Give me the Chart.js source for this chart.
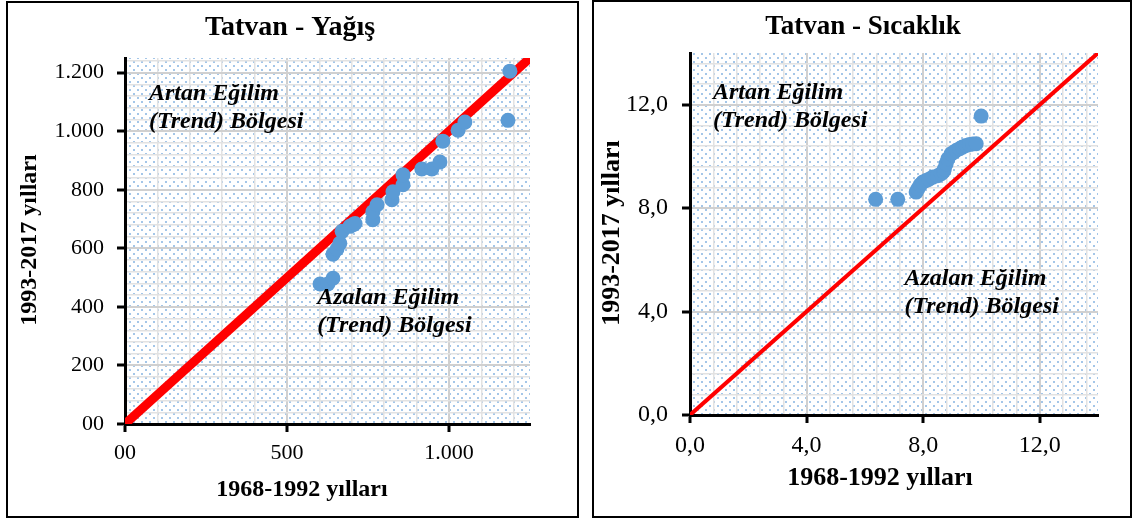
<!DOCTYPE html>
<html lang="tr">
<head>
<meta charset="utf-8">
<title>Tatvan - Yağış / Sıcaklık</title>
<script src="https://cdn.jsdelivr.net/npm/chart.js@4.4.1/dist/chart.umd.min.js"></script>
<style>
    body { margin: 0; background: #fff; width: 1134px; height: 519px; position: relative; overflow: hidden; }
    .frame { position: absolute; border: 2px solid #000; box-sizing: border-box; }
    canvas { position: absolute; top: 0; }
</style>
</head>
<body>
<div class="frame" style="left:6px; top:1px; width:573px; height:517px;"></div>
<div class="frame" style="left:592px; top:0; width:540px; height:518px;"></div>
<canvas id="rainChart" width="580" height="519" style="left:0;"></canvas>
<canvas id="tempChart" width="542" height="519" style="left:592px;"></canvas>

<script>
// Tatvan - Yağış (mm): sorted values, 1968-1992 vs 1993-2017
const rainOld = [602, 626, 642, 642, 654, 663, 670, 694, 704, 710, 765, 765, 778, 824, 827, 858, 858, 916, 947, 972, 981, 1028, 1049, 1182, 1188];
const rainNew = [478, 478, 498, 580, 597, 617, 658, 675, 681, 685, 698, 725, 749, 766, 793, 817, 851, 871, 871, 895, 966, 1003, 1031, 1037, 1205];
const rainRange = [0, 1250];
const rainXTicks = [0, 500, 1000];
const rainXLabels = ['00', '500', '1.000'];
const rainYTicks = [0, 200, 400, 600, 800, 1000, 1200];
const rainYLabels = ['00', '200', '400', '600', '800', '1.000', '1.200'];

// Tatvan - Sıcaklık (°C): sorted values, 1968-1992 vs 1993-2017
const tempOld = [6.37, 7.13, 7.76, 7.82, 7.90, 7.99, 8.10, 8.20, 8.33, 8.50, 8.62, 8.70, 8.73, 8.79, 8.85, 8.96, 9.05, 9.13, 9.25, 9.35, 9.47, 9.59, 9.70, 9.82, 9.99];
const tempNew = [8.34, 8.34, 8.62, 8.75, 8.90, 9.01, 9.07, 9.12, 9.20, 9.25, 9.33, 9.42, 9.52, 9.72, 9.91, 10.10, 10.16, 10.23, 10.30, 10.36, 10.42, 10.46, 10.48, 10.49, 11.56];
const tempRange = [0, 14];
const tempTicks = [0, 4, 8, 12];
const tempLabels = ['0,0', '4,0', '8,0', '12,0'];

const SERIF = '"Liberation Serif", "Times New Roman", serif';

// dotted fill like the Excel plot area
const dots = document.createElement('canvas');
dots.width = 8;
dots.height = 8;
const dctx = dots.getContext('2d');
dctx.fillStyle = '#a4c6e8';
dctx.fillRect(1, 1, 2, 2);
dctx.fillRect(5, 5, 2, 2);

const areaPattern = {
    id: 'areaPattern',
    beforeDraw: function (chart) {
        const ctx = chart.ctx;
        const a = chart.chartArea;
        ctx.save();
        ctx.fillStyle = ctx.createPattern(dots, 'repeat');
        ctx.fillRect(a.left, a.top, a.right - a.left, a.bottom - a.top);
        ctx.restore();
    }
};

// panel title, axis titles and the two zone notes
const panelText = {
    id: 'panelText',
    afterDatasetsDraw: function (chart, args, opts) {
        const ctx = chart.ctx;
        const x = chart.scales.x, y = chart.scales.y;
        ctx.save();
        ctx.fillStyle = '#000';
        ctx.textBaseline = 'middle';
        ctx.textAlign = 'center';
        ctx.font = 'bold ' + opts.titleSize + 'px ' + SERIF;
        ctx.fillText(opts.title, chart.width / 2, opts.titleY);

        ctx.font = 'bold ' + opts.axisSize + 'px ' + SERIF;
        ctx.fillText('1968-1992 yılları', opts.xTitle[0], opts.xTitle[1]);
        ctx.save();
        ctx.translate(opts.yTitle[0], opts.yTitle[1]);
        ctx.rotate(-Math.PI / 2);
        ctx.fillText('1993-2017 yılları', 0, 0);
        ctx.restore();

        ctx.textAlign = 'left';
        ctx.textBaseline = 'alphabetic';
        ctx.font = 'italic bold 24px ' + SERIF;
        opts.notes.forEach(function (n) {
            const px = x.getPixelForValue(n.x);
            const py = y.getPixelForValue(n.y);
            n.lines.forEach(function (t, i) { ctx.fillText(t, px, py + i * 28); });
        });
        ctx.restore();
    }
};

function isMajor(v, majors) {
    return majors.some(m => Math.abs(m - v) < 1e-6);
}

function minorTicks(range, step) {
    const out = [];
    for (let i = 0; i * step < range[1] - 1e-9; i++) {
        out.push({ value: +(i * step).toFixed(4) });
    }
    return out;
}

function axis(c, dir) {
    const horiz = dir === 'x';
    const majors = horiz ? c.xTicks : c.yTicks;
    const labels = horiz ? c.xLabels : c.yLabels;
    const step = horiz ? c.xStep : c.yStep;
    return {
        type: 'linear',
        position: horiz ? 'bottom' : 'left',
        min: c.range[0],
        max: c.range[1],
        afterBuildTicks: s => { s.ticks = minorTicks(c.range, step); },
        afterFit: s => {
            if (horiz) s.height = c.xHeight;
            else s.width = c.yWidth;
        },
        grid: {
            color: ctx => ctx.tick && isMajor(ctx.tick.value, majors) ? '#d0d0d0' : '#e2e2e2',
            lineWidth: ctx => ctx.tick && isMajor(ctx.tick.value, majors) ? 2 : 1.5,
            tickColor: ctx => ctx.tick && isMajor(ctx.tick.value, majors) ? '#000' : 'rgba(0,0,0,0)',
            tickLength: 8,
            tickWidth: 3
        },
        border: { color: '#000', width: 3 },
        ticks: {
            autoSkip: false,
            maxRotation: 0,
            color: '#000',
            font: { family: SERIF, size: c.tickSize },
            padding: horiz ? 8 : c.yPad,
            callback: function (value) {
                const i = majors.findIndex(m => Math.abs(m - value) < 1e-6);
                return i >= 0 ? labels[i] : '';
            }
        },
        title: { display: false }
    };
}

function drawPanel(id, c) {
    const points = c.xs.map((x, i) => ({ x: x, y: c.ys[i] }));
    new Chart(document.getElementById(id), {
        data: {
            datasets: [{
                type: 'scatter',
                data: points,
                backgroundColor: '#5b9bd5',
                borderWidth: 0,
                pointRadius: 7.5,
                pointHoverRadius: 7.5
            }, {
                type: 'line',
                data: [{ x: c.range[0], y: c.range[0] }, { x: c.range[1], y: c.range[1] }],
                borderColor: '#ff0000',
                borderWidth: c.lineWidth,
                pointRadius: 0,
                fill: false,
                clip: 0
            }]
        },
        options: {
            responsive: false,
            animation: false,
            devicePixelRatio: 1,
            layout: { padding: { left: 0, right: c.padRight, top: c.padTop, bottom: 0 } },
            plugins: {
                legend: { display: false },
                tooltip: { enabled: false },
                panelText: {
                    title: c.title, titleY: c.titleY, titleSize: c.titleSize,
                    axisSize: c.axisSize, xTitle: c.xTitle, yTitle: c.yTitle,
                    notes: c.notes
                }
            },
            scales: {
                x: axis(c, 'x'),
                y: axis(c, 'y')
            }
        },
        plugins: [areaPattern, panelText]
    });
}

drawPanel('rainChart', {
    title: 'Tatvan - Yağış',
    xs: rainOld, ys: rainNew, range: rainRange,
    xTicks: rainXTicks, xLabels: rainXLabels, xStep: 100,
    yTicks: rainYTicks, yLabels: rainYLabels, yStep: 40,
    padRight: 50, padTop: 58, titleY: 28, titleSize: 28,
    tickSize: 22, axisSize: 24, xTitle: [302, 490], yTitle: [30, 240],
    yWidth: 125, xHeight: 95, yPad: 13,
    lineWidth: 9,
    notes: [
        { x: 74, y: 1105, lines: ['Artan Eğilim', '(Trend) Bölgesi'] },
        { x: 593, y: 410, lines: ['Azalan Eğilim', '(Trend) Bölgesi'] }
    ]
});

drawPanel('tempChart', {
    title: 'Tatvan - Sıcaklık',
    xs: tempOld, ys: tempNew, range: tempRange,
    xTicks: tempTicks, xLabels: tempLabels, xStep: 0.8,
    yTicks: tempTicks, yLabels: tempLabels, yStep: 0.8,
    padRight: 36, padTop: 53, titleY: 27, titleSize: 27,
    tickSize: 24, axisSize: 26, xTitle: [288, 478], yTitle: [20, 233],
    yWidth: 98, xHeight: 104, yPad: 14,
    lineWidth: 4,
    notes: [
        { x: 0.79, y: 12.24, lines: ['Artan Eğilim', '(Trend) Bölgesi'] },
        { x: 7.36, y: 5.02, lines: ['Azalan Eğilim', '(Trend) Bölgesi'] }
    ]
});
</script>
</body>
</html>
